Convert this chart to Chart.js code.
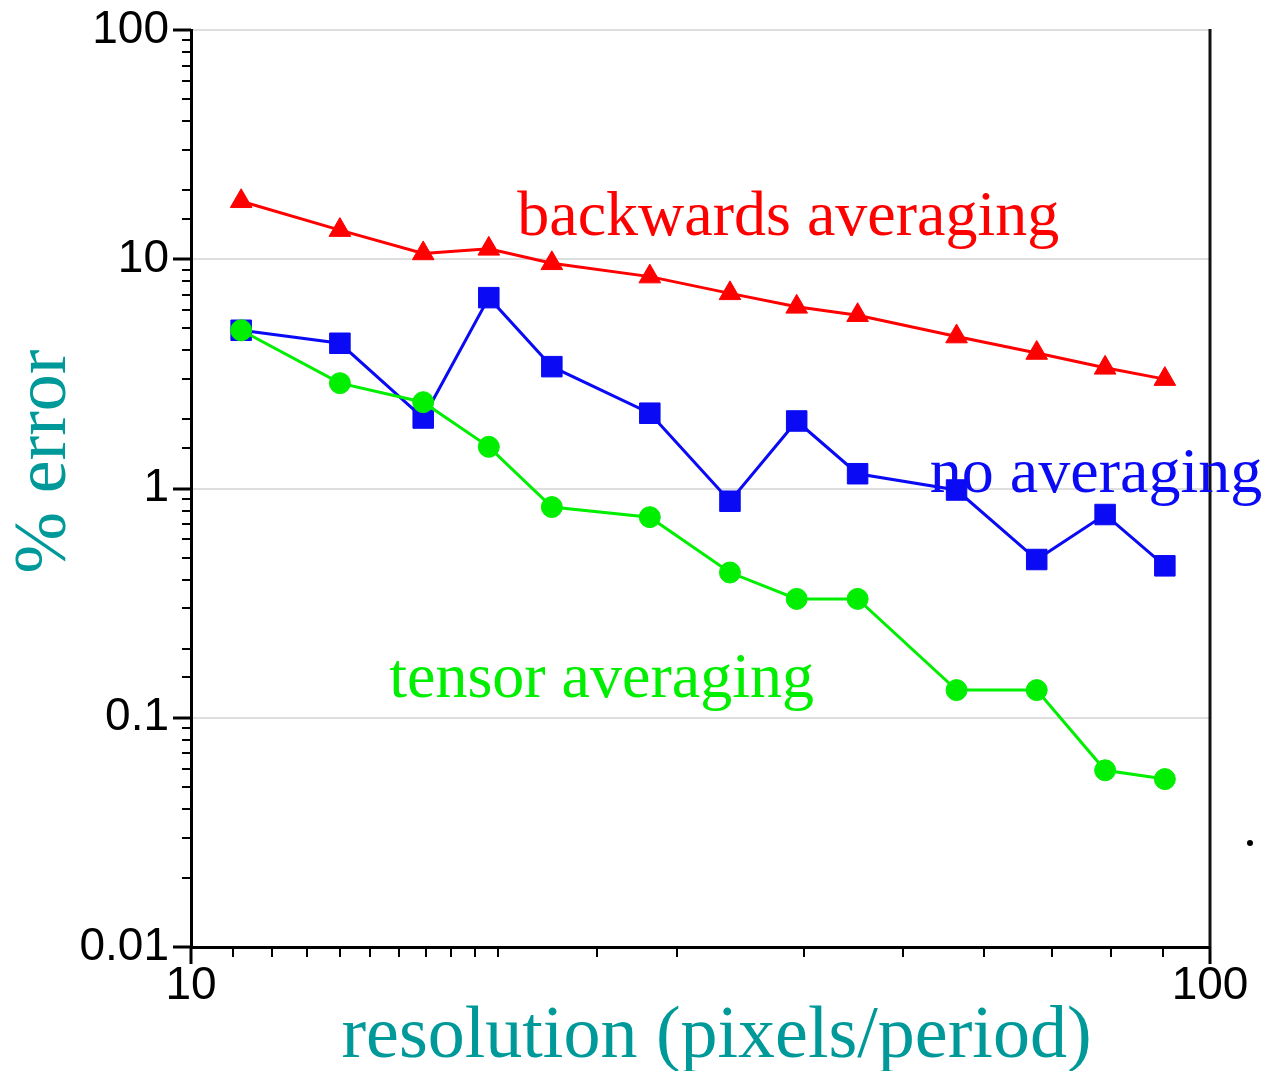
<!DOCTYPE html>
<html>
<head>
<meta charset="utf-8">
<script src="https://cdn.jsdelivr.net/npm/chart.js@4.4.1/dist/chart.umd.min.js"></script>
<style>
  html, body { margin: 0; padding: 0; background: #fff; }
  #wrap { width: 1263px; height: 1071px; position: relative; }
</style>
</head>
<body>
<div id="wrap"><canvas id="errChart"></canvas></div>
<script>
// resolution (pixels/period) for each run
var resolution = [11.2, 14.0, 16.9, 19.6, 22.6, 28.2, 33.8, 39.3, 45.1, 56.4, 67.6, 78.9, 90.3];
// % error for each scheme
var backwardsErr = [17.9, 13.4, 10.6, 11.1, 9.6, 8.4, 7.1, 6.2, 5.7, 4.6, 3.9, 3.36, 3.0];
var noAvgErr = [4.9, 4.3, 2.03, 6.8, 3.4, 2.13, 0.88, 1.97, 1.16, 0.985, 0.49, 0.77, 0.46];
var tensorErr = [4.9, 2.88, 2.38, 1.52, 0.83, 0.75, 0.43, 0.33, 0.33, 0.132, 0.132, 0.059, 0.054];

var yTickLabels = ['0.01', '0.1', '1', '10', '100'];
var xTickLabels = ['10', '100'];

// curve labels, anchored at (resolution, error) of the text baseline start
var curveLabels = [
    { text: 'backwards averaging', x: 20.9, y: 12.8, color: '#ff0000' },
    { text: 'no averaging', x: 53.1, y: 0.968, color: '#0a0af5' },
    { text: 'tensor averaging', x: 15.65, y: 0.123, color: '#00ee00' }
];

function isDecade(v) {
    var l = Math.log10(v);
    return Math.abs(l - Math.round(l)) < 1e-6;
}

function pairs(ys) {
    return resolution.map(function (x, i) { return { x: x, y: ys[i] }; });
}

var decorPlugin = {
    id: 'decor',
    afterDraw: function (chart) {
        var ctx = chart.ctx;
        var area = chart.chartArea;
        var xs = chart.scales.x;
        var ys = chart.scales.y;
        ctx.save();

        // tick marks, long for decades and short between
        ctx.strokeStyle = '#000';
        ys.ticks.forEach(function (t) {
            var py = Math.round(ys.getPixelForValue(t.value));
            var major = isDecade(t.value);
            ctx.lineWidth = major ? 3 : 2;
            ctx.beginPath();
            ctx.moveTo(area.left - (major ? 18 : 9), py);
            ctx.lineTo(area.left, py);
            ctx.stroke();
        });
        xs.ticks.forEach(function (t) {
            var px = Math.round(xs.getPixelForValue(t.value));
            var major = isDecade(t.value);
            ctx.lineWidth = major ? 3 : 2;
            ctx.beginPath();
            ctx.moveTo(px, area.bottom);
            ctx.lineTo(px, area.bottom + (major ? 17 : 10));
            ctx.stroke();
        });

        // right frame line
        ctx.lineWidth = 3;
        ctx.strokeStyle = '#111';
        ctx.beginPath();
        ctx.moveTo(area.right, area.top - 1);
        ctx.lineTo(area.right, area.bottom);
        ctx.stroke();

        // axis titles
        ctx.fillStyle = '#009999';
        ctx.font = '74px "Liberation Serif", "DejaVu Serif", serif';
        ctx.textAlign = 'center';
        ctx.textBaseline = 'alphabetic';
        ctx.fillText('resolution (pixels/period)', (area.left + area.right) / 2 + 16, 1057);
        ctx.save();
        ctx.translate(65, (area.top + area.bottom) / 2 - 27);
        ctx.rotate(-Math.PI / 2);
        ctx.fillText('% error', 0, 0);
        ctx.restore();

        // curve labels
        ctx.font = '64px "Liberation Serif", "DejaVu Serif", serif';
        ctx.textAlign = 'left';
        curveLabels.forEach(function (lab) {
            ctx.fillStyle = lab.color;
            ctx.fillText(lab.text, xs.getPixelForValue(lab.x), ys.getPixelForValue(lab.y));
        });

        // stray dot right of the frame
        ctx.fillStyle = '#000';
        ctx.beginPath();
        ctx.arc(area.right + 40, area.bottom - 104, 3, 0, Math.PI * 2);
        ctx.fill();

        ctx.restore();
    }
};

var ctxErr = document.getElementById('errChart').getContext('2d');
var errChart = new Chart(ctxErr, {
    type: 'line',
    data: {
        datasets: [{
            label: 'tensor averaging',
            data: pairs(tensorErr),
            borderColor: '#00ee00',
            backgroundColor: '#00ee00',
            borderWidth: 3,
            pointStyle: 'circle',
            pointRadius: 10.5,
            pointBorderWidth: 1,
            pointBorderColor: '#00ee00',
            tension: 0
        }, {
            label: 'no averaging',
            data: pairs(noAvgErr),
            borderColor: '#0a0af5',
            backgroundColor: '#0a0af5',
            borderWidth: 3,
            pointStyle: 'rect',
            pointRadius: 14.5,
            pointBorderWidth: 1,
            pointBorderColor: '#0a0af5',
            tension: 0
        }, {
            label: 'backwards averaging',
            data: pairs(backwardsErr),
            borderColor: '#ff0000',
            backgroundColor: '#ff0000',
            borderWidth: 3,
            pointStyle: 'triangle',
            pointRadius: 12.5,
            pointBorderWidth: 1,
            pointBorderColor: '#ff0000',
            tension: 0
        }]
    },
    options: {
        responsive: true,
        maintainAspectRatio: false,
        animation: false,
        layout: { padding: { top: 30, right: 53, left: 0, bottom: 0 } },
        plugins: {
            legend: { display: false },
            tooltip: { enabled: false }
        },
        scales: {
            x: {
                type: 'logarithmic',
                min: 10,
                max: 100,
                afterFit: function (scale) {
                    scale.height = 124;
                    scale.paddingLeft = 0;
                    scale.paddingRight = 0;
                },
                grid: { display: false, drawTicks: false },
                border: { display: true, color: '#000', width: 3 },
                ticks: {
                    autoSkip: false,
                    maxRotation: 0,
                    padding: 12,
                    color: '#000',
                    font: { family: '"Liberation Sans", Arial, sans-serif', size: 46 },
                    callback: function (value) {
                        if (!isDecade(value)) return '';
                        return xTickLabels[Math.round(Math.log10(value)) - 1];
                    }
                }
            },
            y: {
                type: 'logarithmic',
                min: 0.01,
                max: 100,
                afterFit: function (scale) {
                    scale.width = 191;
                    scale.paddingTop = 0;
                    scale.paddingBottom = 0;
                },
                grid: {
                    drawTicks: false,
                    lineWidth: 2,
                    color: function (c) {
                        return c.tick && isDecade(c.tick.value) ? '#dedede' : 'rgba(0,0,0,0)';
                    }
                },
                border: { display: true, color: '#000', width: 3 },
                ticks: {
                    autoSkip: false,
                    padding: 22,
                    color: '#000',
                    font: { family: '"Liberation Sans", Arial, sans-serif', size: 46 },
                    callback: function (value) {
                        if (!isDecade(value)) return '';
                        return yTickLabels[Math.round(Math.log10(value)) + 2];
                    }
                }
            }
        }
    },
    plugins: [decorPlugin]
});
</script>
</body>
</html>
